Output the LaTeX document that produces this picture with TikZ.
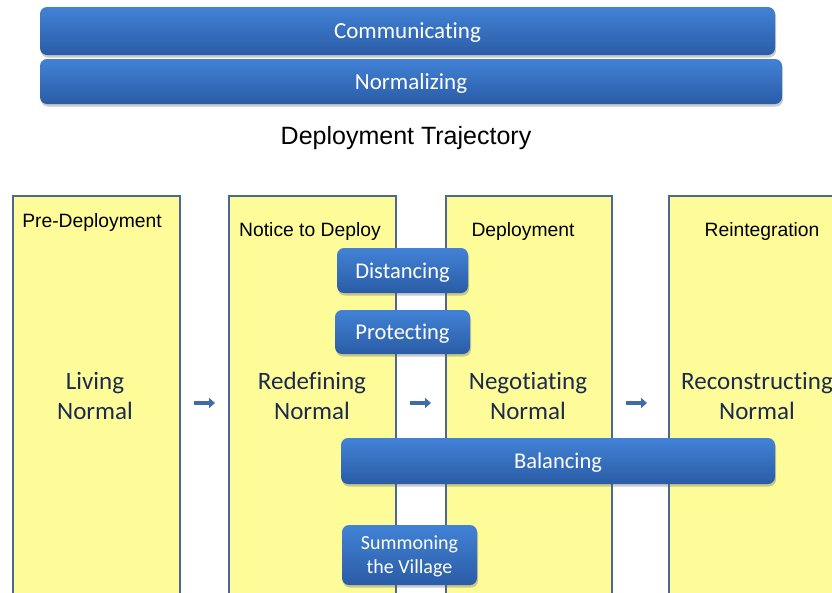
\documentclass[tikz,border=0pt]{standalone}
\usepackage{fontspec}
\setmainfont{Liberation Sans}
\newfontfamily\calfont[Ligatures=NoCommon]{Carlito}
\usetikzlibrary{shadows,arrows.meta}
\definecolor{pilltop}{HTML}{4282D6}
\definecolor{pillbot}{HTML}{2A5CA6}
\definecolor{ybox}{HTML}{FEFC98}
\definecolor{yborder}{HTML}{4A6890}
\definecolor{navytext}{HTML}{1C2A50}
\definecolor{arrowblue}{HTML}{3D6CA8}
\tikzset{
  pill/.style={rounded corners=7pt, top color=pilltop, bottom color=pillbot,
    drop shadow={shadow xshift=1pt, shadow yshift=-2.5pt, opacity=0.35, fill=black!60},
    text=white, font=\calfont\fontsize{22.5}{26}\selectfont, align=center, inner sep=0pt,
    text depth=0pt},
  phasebox/.style={fill=ybox, draw=yborder, line width=1.6pt, anchor=north west, inner sep=0pt},
  header/.style={font=\fontsize{19.3}{22}\selectfont, text=black},
  midtext/.style={font=\calfont\fontsize{25}{30}\selectfont, text=navytext, align=center},
  smallarrow/.style={draw=arrowblue, line width=4pt, -{Triangle[length=6pt,width=10pt]}},
}
\begin{document}
\begin{tikzpicture}[x=1pt,y=-1pt]
\useasboundingbox (0,0) rectangle (832,592);
\clip (0,0) rectangle (832,592);
% top bars
\node[pill, minimum width=735pt, minimum height=48pt, font=\calfont\fontsize{23}{26}\selectfont] (comm) at (407.5,31) {Communicating};
\node[pill, minimum width=742pt, minimum height=45pt, font=\calfont\fontsize{23}{26}\selectfont] (norm) at (411,81.5) {Normalizing};
\node[font=\fontsize{25}{28}\selectfont] (title) at (406,138) {Deployment Trajectory};
% phase boxes
\node[phasebox, minimum width=167pt, minimum height=430pt] (b1) at (12,195) {};
\node[phasebox, minimum width=167pt, minimum height=430pt] (b2) at (228,195) {};
\node[phasebox, minimum width=166pt, minimum height=430pt] (b3) at (445,195) {};
\node[phasebox, minimum width=200pt, minimum height=430pt] (b4) at (668,195) {};
% headers
\node[header] (h1) at (92,223) {Pre-Deployment};
\node[header] (h2) at (310,232) {Notice to Deploy};
\node[header] (h3) at (523,232) {Deployment};
\node[header] (h4) at (762,232) {Reintegration};
% middle texts
\node[midtext] (m1) at (95,396) {Living\\Normal};
\node[midtext] (m2) at (312,396) {Redefining\\Normal};
\node[midtext] (m3) at (528,396) {Negotiating\\Normal};
\node[midtext] (m4) at (757,396) {Reconstructing\\Normal};
% arrows
\coordinate (a1s) at (194,403); \coordinate (a1e) at (215,403);
\coordinate (a2s) at (410,403); \coordinate (a2e) at (431,403);
\coordinate (a3s) at (626,403); \coordinate (a3e) at (647,403);
\draw[smallarrow] (a1s) -- (a1e);
\draw[smallarrow] (a2s) -- (a2e);
\draw[smallarrow] (a3s) -- (a3e);
% pills
\node[pill, minimum width=131pt, minimum height=45pt] (dist) at (402.5,270.5) {Distancing};
\node[pill, minimum width=135pt, minimum height=44pt] (prot) at (402.5,332) {Protecting};
\node[pill, minimum width=434pt, minimum height=46pt] (bal) at (558,461) {Balancing};
\node[pill, minimum width=135pt, minimum height=60pt, font=\calfont\fontsize{20}{24}\selectfont] (summ) at (409.5,555) {Summoning\\the Village};
\end{tikzpicture}
\end{document}
